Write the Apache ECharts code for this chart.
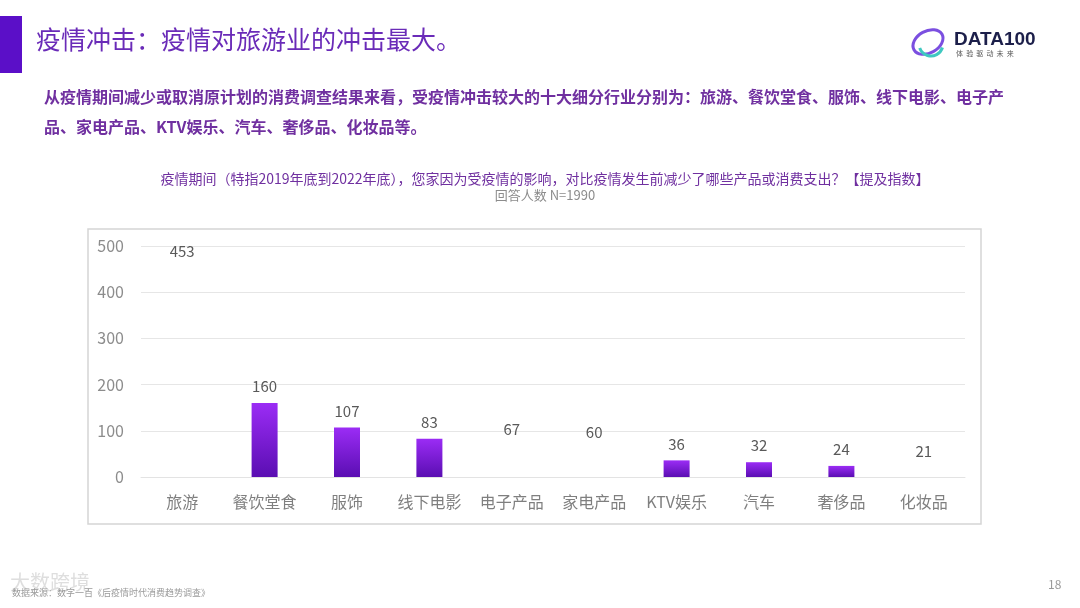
<!DOCTYPE html>
<html>
<head>
<meta charset="utf-8">
<script src="https://cdn.jsdelivr.net/npm/echarts@6/dist/echarts.min.js"></script>
<style>
html,body{margin:0;padding:0;background:#fff;}
#c{width:1080px;height:608px;}
</style>
</head>
<body>
<div id="c"></div>
<script>
const categories = ['旅游','餐饮堂食','服饰','线下电影','电子产品','家电产品','KTV娱乐','汽车','奢侈品','化妆品'];
const values = [453,160,107,83,67,60,36,32,24,21];
const hiddenBars = ['旅游','电子产品','家电产品','化妆品'];
const yTicks = [0,100,200,300,400,500];

const FONT = '"Noto Sans CJK SC", "Noto Sans", sans-serif';
const chart = echarts.init(document.getElementById('c'), null, {renderer:'canvas'});

const barGradient = new echarts.graphic.LinearGradient(0,0,0,1,[
  {offset:0,color:'#9b2cf5'},{offset:1,color:'#5a0eb2'}
]);

const data = categories.map((c,i)=>({
  value: values[i],
  itemStyle: hiddenBars.includes(c) ? {color:'rgba(0,0,0,0)'} : {color: barGradient}
}));

chart.setOption({
  backgroundColor:'#ffffff',
  textStyle:{fontFamily:FONT},
  title:[{
    text:'疫情期间（特指2019年底到2022年底），您家因为受疫情的影响，对比疫情发生前减少了哪些产品或消费支出？【提及指数】',
    left:540, top:167, textAlign:'center',
    textStyle:{fontSize:14, fontWeight:'normal', color:'#7030a0', fontFamily:FONT}
  },{
    text:'回答人数 N=1990',
    left:540, top:184, textAlign:'center',
    textStyle:{fontSize:13, fontWeight:'normal', color:'#8c8c8c', fontFamily:FONT}
  }],
  grid:{left:141, right:115, top:246, bottom:131, containLabel:false},
  xAxis:{
    type:'category', data:categories,
    axisLine:{show:true, lineStyle:{color:'#e3e3e3'}},
    axisTick:{show:false},
    axisLabel:{color:'#7f7f7f', fontSize:16, margin:17, fontFamily:FONT, interval:0}
  },
  yAxis:{
    type:'value', min:0, max:500, interval:100,
    axisLine:{show:false}, axisTick:{show:false},
    splitLine:{lineStyle:{color:'#e6e6e6'}},
    axisLabel:{color:'#8c8c8c', fontSize:16, margin:17, fontFamily:FONT,
      formatter:v=>yTicks.includes(v)?String(v):''}
  },
  series:[{
    type:'bar', data:data, barWidth:26,
    label:{show:true, position:'top', distance:9, color:'#595959', fontSize:15, fontFamily:FONT},
    itemStyle:{color:barGradient}
  }],
  graphic:[
    {type:'rect', shape:{x:0,y:16,width:22,height:57}, style:{fill:'#5b0fc8'}},
    {type:'text', left:36, top:27, style:{text:'疫情冲击：疫情对旅游业的冲击最大。', font:'25px '+FONT, fill:'#6a2bb8'}},
    {type:'text', left:44, top:89, style:{text:'从疫情期间减少或取消原计划的消费调查结果来看，受疫情冲击较大的十大细分行业分别为：旅游、餐饮堂食、服饰、线下电影、电子产',
      font:'bold 16px '+FONT, fill:'#7030a0'}},
    {type:'text', left:44, top:119, style:{text:'品、家电产品、KTV娱乐、汽车、奢侈品、化妆品等。',
      font:'bold 16px '+FONT, fill:'#7030a0'}},
    {type:'rect', shape:{x:88,y:229,width:893,height:295}, style:{fill:'none', stroke:'#d5d5d5', lineWidth:1.5}},
    // logo
    {type:'ellipse', shape:{cx:928,cy:42,rx:16,ry:11}, rotation:0.5, originX:928, originY:42,
      style:{fill:'none', stroke:'#7b4fe0', lineWidth:3}},
    {type:'arc', shape:{cx:931,cy:44,r:12,startAngle:0.3,endAngle:2.8}, style:{stroke:'#3fc8c0', lineWidth:3, fill:'none'}},
    {type:'text', left:954, top:30, style:{text:'DATA100', font:'bold 19px "Liberation Sans", sans-serif', fill:'#1c1f4a'}},
    {type:'text', left:956, top:50, style:{text:'体  验  驱  动  未  来', font:'7px '+FONT, fill:'#555'}},
    // footer
    {type:'text', left:10, top:572, style:{text:'大数跨境', font:'20px '+FONT, fill:'rgba(200,200,200,0.6)'}},
    {type:'text', left:12, top:588, style:{text:'数据来源：数字一百《后疫情时代消费趋势调查》', font:'9px '+FONT, fill:'#9a9a9a'}},
    {type:'text', left:1048, top:578, style:{text:'18', font:'12px '+FONT, fill:'#9a9a9a'}}
  ]
});
</script>
</body>
</html>
